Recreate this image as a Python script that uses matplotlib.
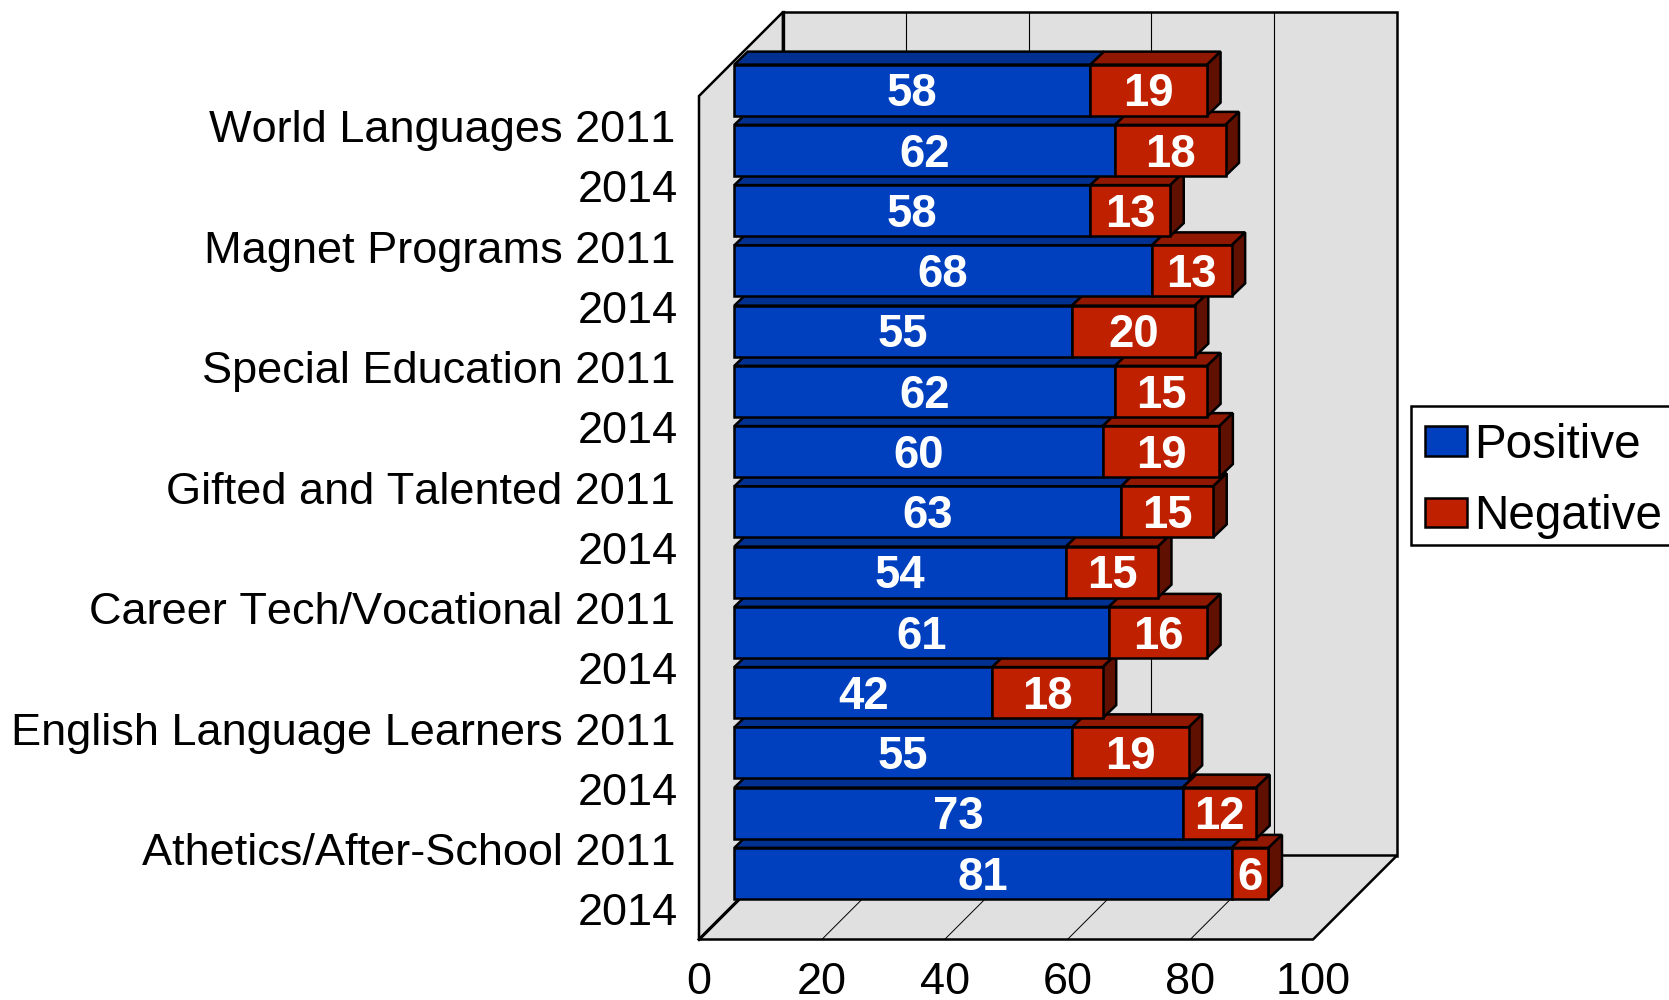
import matplotlib
matplotlib.use("Agg")
import matplotlib.pyplot as plt
from matplotlib.patches import Polygon, Rectangle
from matplotlib.transforms import ScaledTranslation

plt.rcParams['font.family'] = ['Liberation Sans', 'DejaVu Sans']
plt.rcParams['text.kerning_factor'] = 20

labels = ["World Languages 2011", "2014", "Magnet Programs 2011", "2014",
          "Special Education 2011", "2014", "Gifted and Talented 2011", "2014",
          "Career Tech/Vocational 2011", "2014", "English Language Learners 2011", "2014",
          "Athetics/After-School 2011", "2014"]
positive = [58, 62, 58, 68, 55, 62, 60, 63, 54, 61, 42, 55, 73, 81]
negative = [19, 18, 13, 13, 20, 15, 19, 15, 15, 16, 18, 19, 12, 6]
xticks = [0, 20, 40, 60, 80, 100]
series_names = ["Positive", "Negative"]

BLUE, BLUE_TOP = "#0040BF", "#003090"
RED, RED_TOP, RED_SIDE = "#BF2000", "#901800", "#601000"
WALL = "#E0E0E0"
LW = 1.8
FS = 32.5
BAR_FS = 32.8
LEG_FS = 34.3

W, H = 1669, 1000
fig = plt.figure(figsize=(W / 100, H / 100), dpi=100, facecolor="white")
L, R, T, B = 699, 1313, 96, 939.5
ax = fig.add_axes([L / W, 1 - B / H, (R - L) / W, (B - T) / H])
n = len(labels)
ax.set_xlim(0, 100)
ax.set_ylim(n, 0)
ux = (R - L) / 100
uy = (B - T) / n

# Chart box depth (px -> data)
DX, DY = 84 / ux, 84 / uy
# Bar placement inside the box
SX, SY = 35.3 / ux, 36 / uy
# Bar depth
BX, BY = 13.5 / ux, 13 / uy
BAR_H = 51 / uy


def poly(pts, fc, z, lw=LW):
    ax.add_patch(Polygon(pts, closed=True, facecolor=fc, edgecolor="black", linewidth=lw,
                         joinstyle="miter", clip_on=False, zorder=z))


# Walls
poly([(DX, -DY), (100 + DX, -DY), (100 + DX, n - DY), (DX, n - DY)], WALL, 1)
poly([(0, 0), (DX, -DY), (DX, n - DY), (0, n)], WALL, 1)
poly([(0, n), (100, n), (100 + DX, n - DY), (DX, n - DY)], WALL, 1)
for v in xticks[1:-1]:
    ax.plot([v + DX, v + DX], [-DY, n - DY], color="black", lw=0.8, zorder=1.5,
            clip_on=False, solid_capstyle="butt")
    ax.plot([v, v + DX], [n, n - DY], color="black", lw=0.7, zorder=1.5,
            clip_on=False, solid_capstyle="butt")
ax.plot([DX, DX], [-DY, n - DY], color="black", lw=2.4, zorder=1.6, clip_on=False)
ax.plot([0, DX], [n, n - DY], color="black", lw=2.2, zorder=1.6, clip_on=False)

# Bars, top of the chart drawn last
pos_y = [i + 0.5 - SY for i in range(n)]
c_pos = ax.barh(pos_y, positive, left=SX, height=BAR_H, color=BLUE,
                edgecolor="black", linewidth=LW, label=series_names[0], clip_on=False)
c_neg = ax.barh(pos_y, negative, left=[SX + p for p in positive], height=BAR_H, color=RED,
                edgecolor="black", linewidth=LW, label=series_names[1], clip_on=False)

txt_off = ScaledTranslation(0, 0.8 / 100, fig.dpi_scale_trans)
for i in range(n):
    z = 10 + (n - i) * 2
    y0 = pos_y[i] - BAR_H / 2
    y1 = pos_y[i] + BAR_H / 2
    x0 = SX
    x1 = SX + positive[i]
    x2 = x1 + negative[i]
    c_pos[i].set_zorder(z + 0.2)
    c_neg[i].set_zorder(z + 0.7)
    c_pos[i].set_joinstyle("miter")
    c_neg[i].set_joinstyle("miter")
    poly([(x0, y0), (x1, y0), (x1 + BX, y0 - BY), (x0 + BX, y0 - BY)], BLUE_TOP, z + 0.1)
    poly([(x1, y0), (x2, y0), (x2 + BX, y0 - BY), (x1 + BX, y0 - BY)], RED_TOP, z + 0.5)
    poly([(x2, y0), (x2 + BX, y0 - BY), (x2 + BX, y1 - BY), (x2, y1)], RED_SIDE, z + 0.6)
    ax.text((x0 + x1) / 2, pos_y[i], str(positive[i]), color="white", fontsize=BAR_FS,
            fontweight="bold", ha="center", va="center_baseline", zorder=z + 0.9,
            transform=ax.transData + txt_off)
    ax.text((x1 + x2) / 2, pos_y[i], str(negative[i]), color="white", fontsize=BAR_FS,
            fontweight="bold", ha="center", va="center_baseline", zorder=z + 0.9,
            transform=ax.transData + txt_off)

for s in ax.spines.values():
    s.set_visible(False)
ax.patch.set_visible(False)
ax.set_xticks(xticks)
ax.set_yticks([i + 0.5 for i in range(n)])
ax.set_yticklabels(labels)
ax.tick_params(axis="both", length=0, labelsize=FS)
ax.tick_params(axis="x", pad=16)
ax.tick_params(axis="y", pad=15)

# the long labels sit slightly left of the year-only ones
for lab in ax.get_yticklabels():
    dx = 0 if lab.get_text() == "2014" else -3
    lab.set_transform(lab.get_transform() + ScaledTranslation(dx / 100, 0, fig.dpi_scale_trans))

# Legend box runs past the right edge of the picture; drawn beneath the axes layer
fig.add_artist(Rectangle((1411 / W, 1 - 545 / H), 300 / W, 139 / H, transform=fig.transFigure,
                         facecolor="white", edgecolor="black", linewidth=1.8, zorder=-1))
leg = ax.legend(handles=[c_pos, c_neg], loc="upper left", bbox_to_anchor=(1425 / W, 1 - 423 / H),
                bbox_transform=fig.transFigure, borderaxespad=0, fontsize=LEG_FS, frameon=False,
                handlelength=0.89, handleheight=0.58, handletextpad=0.15, labelspacing=0.55,
                borderpad=0)
leg.set_zorder(100)

fig.savefig("out.png", dpi=100)
